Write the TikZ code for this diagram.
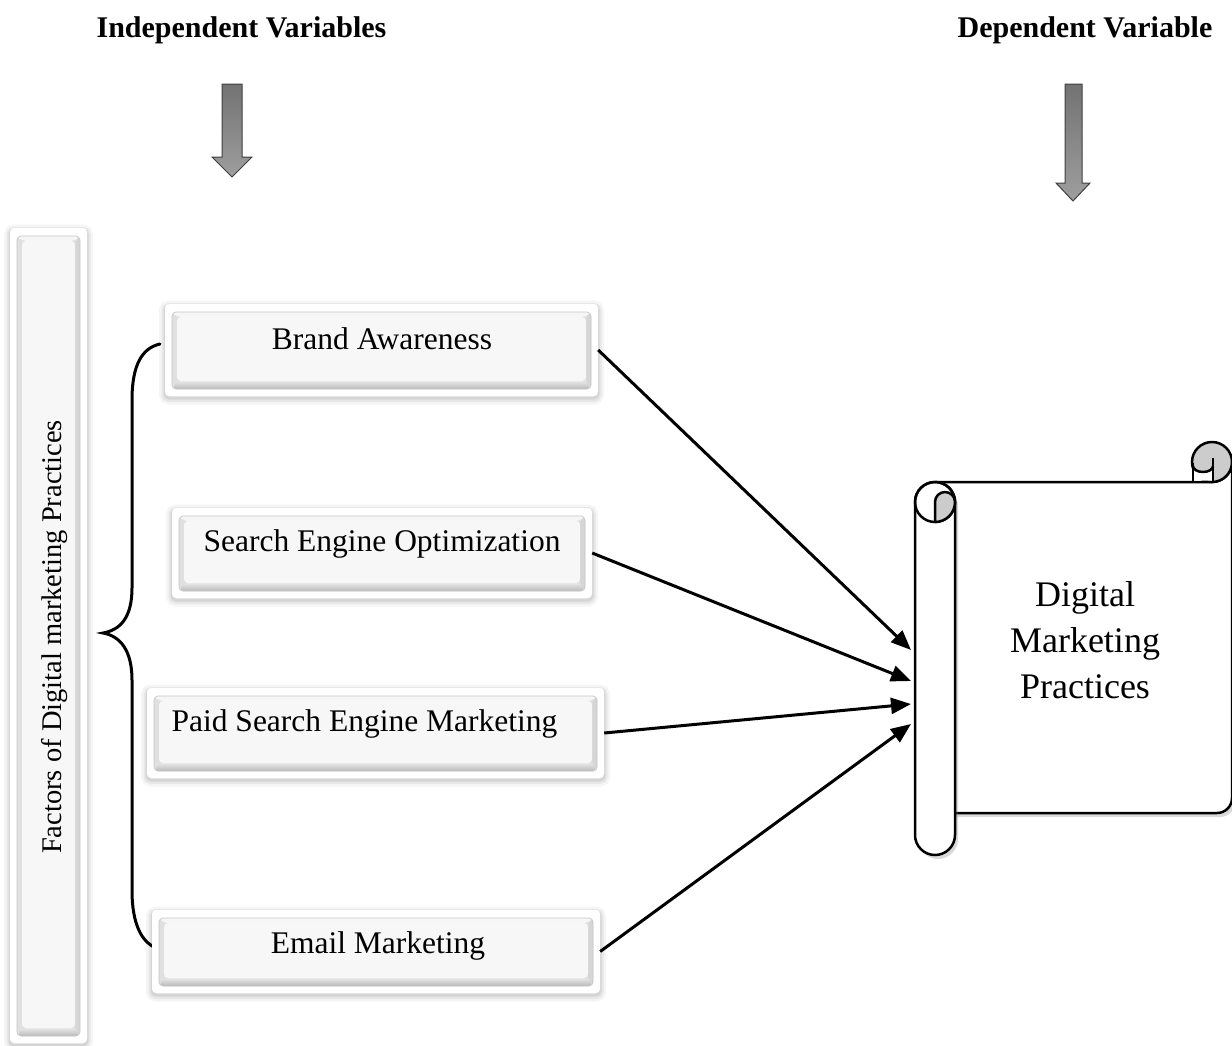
\documentclass[tikz,border=0pt]{standalone}
\usepackage{fontspec}
\setmainfont{Liberation Serif}
\usetikzlibrary{arrows.meta,shadows}
\begin{document}
\begin{tikzpicture}[x=1pt,y=-1pt,
  bevel/.style={path picture={
    \coordinate (p1) at ([shift={(7pt,-8pt)}]path picture bounding box.north west);
    \coordinate (p2) at ([shift={(-7pt,7pt)}]path picture bounding box.south east);
    \coordinate (q1) at ([shift={(5pt,-5pt)}]p1);
    \coordinate (q2) at ([shift={(-5pt,8pt)}]p2);
    \fill[gray!24] (p1) rectangle (p2);
    \fill[gray!7] (p1) -- (p1 -| p2) -- (q1 -| q2) -- (q1) -- cycle;
    \shade[top color=gray!18, bottom color=gray!55] (p2) -- (p2 -| p1) -- (q2 -| q1) -- (q2) -- cycle;
    \fill[gray!32] (p1 -| p2) -- (p2) -- (q2) -- (q1 -| q2) -- cycle;
    \fill[gray!6] (q1) rectangle (q2);
    \draw[gray!45, line width=0.6pt] (p1) rectangle (p2);
  }},
  glow/.style={
    preaction={draw=black, draw opacity=0.04, line width=12pt, transform canvas={yshift=-2.5pt}},
    preaction={draw=black, draw opacity=0.06, line width=7pt, transform canvas={yshift=-2.5pt}},
    preaction={draw=black, draw opacity=0.08, line width=3pt, transform canvas={yshift=-2pt}}},
  frame/.style={fill=white, rounded corners=4pt, inner sep=0pt, glow, bevel},
  lbl/.style={font=\fontsize{31.5}{36}\selectfont, inner sep=0pt},
  hdr/.style={font=\fontsize{30}{34}\selectfont\bfseries, inner sep=0pt},
  conn/.style={line width=3pt, -{Triangle[length=20pt,width=16pt]}},
  hdarrow/.style={top color=black!55, bottom color=black!38, draw=black!75, line width=1pt},
  scrollline/.style={line width=2.5pt, line join=round},
  scrollshadow/.style={drop shadow={shadow xshift=3pt, shadow yshift=-4pt, opacity=0.3, fill=black!50}}
]
\useasboundingbox (0,0) rectangle (1232,1045);

% headers
\node[hdr, anchor=base] (iv) at (241.5,37) {Independent Variables};
\node[hdr, anchor=base] (dv) at (1085,37) {Dependent Variable};

% header arrows
\draw[hdarrow] (222,84) -- (242,84) -- (242,157) -- (252,157) -- (232,177) -- (212,157) -- (222,157) -- cycle;
\draw[hdarrow] (1065,84) -- (1082,84) -- (1082,183) -- (1090,183) -- (1073,201) -- (1056,183) -- (1065,183) -- cycle;

% brace
\draw[line width=3pt, line cap=round] (160,344) .. controls (142,348) and (132,365) .. (132,400) -- (132,588)
  .. controls (132,618) and (120,630) .. (103,633) .. controls (120,636) and (132,650) .. (132,680)
  -- (132,890) .. controls (132,925) and (142,942) .. (156,948);

% vertical bar
\node[frame, minimum width=77pt, minimum height=815pt] (bar) at (48.5,635.5) {};
\node[font=\fontsize{28.5}{32}\selectfont, rotate=90, inner sep=0pt] (fdm) at (55,637) {Factors of Digital marketing Practices};

% factor boxes
\node[frame, minimum width=433pt, minimum height=92pt] (ba) at (381.5,350) {};
\node[frame, minimum width=420pt, minimum height=90pt] (seo) at (382,553) {};
\node[frame, minimum width=457pt, minimum height=90pt] (psem) at (375.5,733) {};
\node[frame, minimum width=448pt, minimum height=83pt] (em) at (376,951.5) {};

\node[lbl, anchor=base] (tba) at (382,349) {Brand Awareness};
\node[lbl, anchor=base] (tseo) at (382,551) {Search Engine Optimization};
\node[lbl, anchor=base] (tpsem) at (364.5,731) {Paid Search Engine Marketing};
\node[lbl, anchor=base] (tem) at (378,953) {Email Marketing};

% scroll
\draw[scrollline, fill=white, scrollshadow] (935,482) -- (1212,482) arc(90:0:20) -- (1232,798) arc(0:90:15) -- (935,813) -- cycle;
\draw[scrollline, fill=white, scrollshadow] (915,835) -- (915,502) arc(180:360:20) -- (955,835) arc(0:180:20) -- cycle;
\draw[scrollline] (935,502) circle (20);
\draw[scrollline, fill=gray!40] (935,522) -- (935,502) arc(180:360:10) arc(0:90:20) -- cycle;
\draw[scrollline, fill=gray!40] (1212,462) circle (20);
\fill[white] (1193,466) -- (1193,480.5) -- (1213,480.5) -- (1213,466) arc(0:180:10 and 6) -- cycle;
\draw[scrollline] (1193,463) -- (1193,482);
\draw[scrollline] (1213,458) -- (1213,482);
\draw[scrollline] (1213,466) arc(0:180:10 and 6);

\node[font=\fontsize{36}{46}\selectfont, align=center, inner sep=0pt] (dmp) at (1085,640) {Digital\\Marketing\\Practices};

% connectors
\coordinate (e1) at (911,650);
\coordinate (e2) at (911,681);
\coordinate (e3) at (911,704);
\coordinate (e4) at (911,724);
\draw[conn] (ba.east) -- (e1);
\draw[conn] (seo.east) -- (e2);
\draw[conn] (psem.east) -- (e3);
\draw[conn] (em.east) -- (e4);
\end{tikzpicture}
\end{document}
